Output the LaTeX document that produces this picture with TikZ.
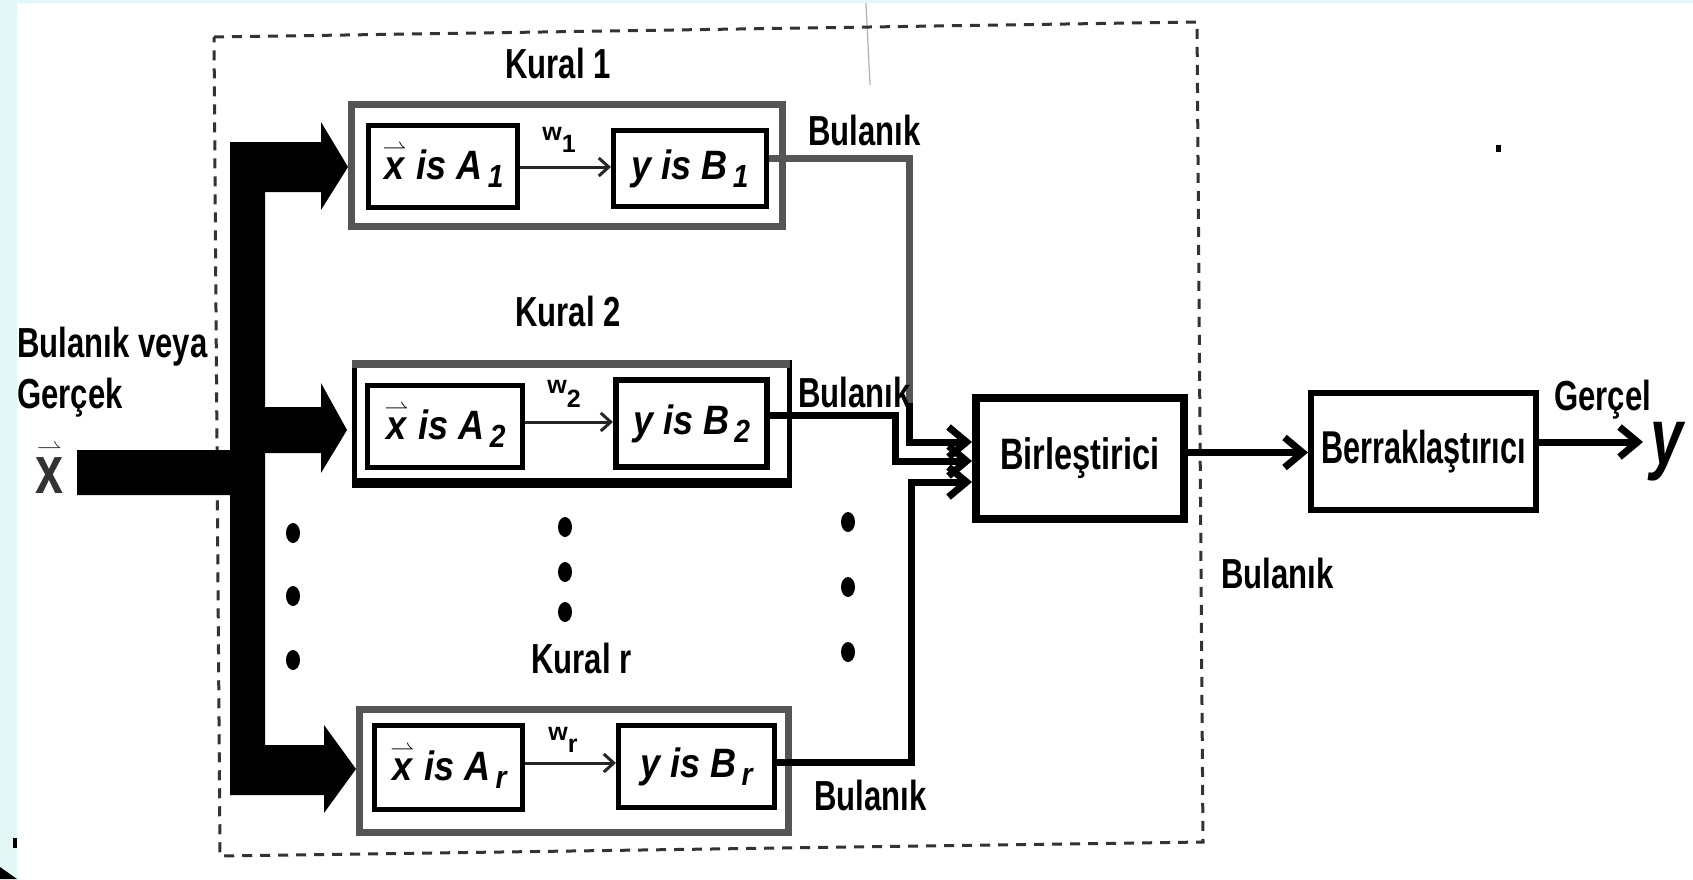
\documentclass[tikz,border=0pt]{standalone}
\usepackage{fontspec}
\setmainfont[FakeStretch=0.74]{Liberation Sans}
\newfontfamily\boxfont[FakeStretch=0.88]{Liberation Sans}
\newfontfamily\wfont{Liberation Sans}
\usepackage{graphicx}
\usetikzlibrary{arrows.meta,calc}
\definecolor{bgcyan}{HTML}{E4F7F7}
\definecolor{rulegray}{HTML}{555555}
\newcommand\vx[1]{\leavevmode\vbox{\offinterlineskip\halign{\hfil##\hfil\cr\resizebox{#1}{!}{$\rightharpoonup$}\cr\noalign{\kern1.5pt}x\cr}}}
\newcommand\sub[1]{\hspace{2.5pt}\raisebox{-4pt}{\fontsize{16}{16}\selectfont #1}}
\tikzset{
  lbl/.style={anchor=base west, inner sep=0pt, font=\fontsize{21}{21}\selectfont\bfseries},
  rulebox/.style={draw=rulegray, line width=3.5pt, inner sep=0pt},
  condbox/.style={draw=black, line width=2.5pt, inner sep=0pt, font=\boxfont\fontsize{20.5}{20.5}\selectfont\bfseries\itshape},
  bigbox/.style={draw=black, inner sep=0pt},
  wire/.style={line width=3.5pt, line join=miter},
  barbtip/.style={-{Straight Barb[length=9pt,width=15pt]}},
  warrow/.style={line width=1.5pt, black!85, -{Straight Barb[length=5pt,width=9pt]}},
  wlbl/.style={anchor=base west, inner sep=0pt, font=\wfont\fontsize{12.5}{12.5}\selectfont\bfseries},
  dashbox/.style={line width=1.5pt, black!80, dash pattern=on 5pt off 4pt}
}
\begin{document}
\begin{tikzpicture}[x=0.5pt,y=-0.5pt]
\useasboundingbox (0,0) rectangle (1693,879);
% background
\fill[bgcyan] (0,0) rectangle (1693,879);
\fill[white] (17,3) rectangle (1693,879);
\fill (0,867) -- (17,879) -- (0,879) -- cycle;
\fill (13,838) rectangle (17,848);
\fill (1496,145) rectangle (1501,152);
\draw[black!30, line width=0.6pt] (866,3) -- (870,85);

% dashed system boundary
\draw[dashbox] (214,37) -- (1197,22) -- (1203,842) -- (220,856) -- cycle;

% rule boxes
\node[rulebox, minimum width=215.5pt, minimum height=61pt] (R1) at (567,165.5) {};
\node[bigbox, line width=2.5pt, minimum width=217.5pt, minimum height=61.5pt] (R2) at (572,424) {};
\fill[rulegray] (352,360) rectangle (790,368);
\fill[black] (352,478) rectangle (792,488);
\node[rulebox, minimum width=214.5pt, minimum height=61.5pt] (Rr) at (574,771) {};

% condition boxes
\node[condbox, minimum width=74.5pt, minimum height=41pt] (A1) at (443,166.5) {\vx{12pt} is A\sub{1}};
\node[condbox, minimum width=76.5pt, minimum height=38pt] (B1) at (690,168.5) {y is B\sub{1}};
\node[condbox, minimum width=77.5pt, minimum height=41pt] (A2) at (445,426.5) {\vx{12pt} is A\sub{2}};
\node[condbox, line width=3pt, minimum width=75.5pt, minimum height=43.5pt] (B2) at (691.5,423.5) {y is B\sub{2}};
\node[condbox, minimum width=74pt, minimum height=42pt] (Ar) at (448.5,767.5) {\vx{12pt} is A\sub{r}};
\node[condbox, minimum width=78pt, minimum height=41pt] (Br) at (696.5,766.5) {y is B\sub{r}};

% weights
\coordinate (a1o) at ($(A1.east)+(0,0.5)$);
\coordinate (a2o) at ($(A2.east)+(0,-4.5)$);
\coordinate (aro) at ($(Ar.east)+(0,-4.5)$);
\draw[warrow] (a1o) -- (a1o -| B1.west);
\draw[warrow] (a2o) -- (a2o -| B2.west);
\draw[warrow] (aro) -- (aro -| Br.west);
\node[wlbl] (w1) at (542,140) {w\raisebox{-6pt}{1}};
\node[wlbl] (w2) at (547,393) {w\raisebox{-7pt}{2}};
\node[wlbl] (wr) at (548,740) {w\raisebox{-6pt}{r}};

% big input arrow
\fill (77,450) -- (230,450) -- (230,142) -- (321,142) -- (321,122) -- (348,167) -- (321,210) -- (321,192) -- (265,192)
  -- (265,407) -- (321,407) -- (321,383) -- (347,430) -- (321,473) -- (321,453) -- (265,453)
  -- (265,745) -- (324,745) -- (324,725) -- (356,769) -- (324,813) -- (324,795) -- (230,795)
  -- (230,495) -- (77,495) -- cycle;

% combiner and defuzzifier
\node[bigbox, line width=4pt, minimum width=104pt, minimum height=60.5pt, font=\fontsize{22}{22}\selectfont\bfseries] (Birl) at (1080,458.5) {Birleştirici};
\node[bigbox, line width=3pt, minimum width=112.5pt, minimum height=58.5pt, font=\fontsize{23}{23}\selectfont\bfseries] (Berr) at (1423.5,451.5) {\scalebox{0.9}[1]{Berraklaştırıcı}};

% wires to combiner
\draw[rulegray, wire] ($(B1.east)+(0,-10.5)$) -- (909,158) -- (909,405);
\draw[wire, barbtip] (909,403) |- ($(Birl.west)+(0,-16.5)$);
\draw[wire, barbtip] ($(B2.east)+(0,-8.5)$) -- (895,415) |- ($(Birl.west)+(0,2.5)$);
\draw[wire, barbtip] ($(Br.east)+(0,-4.5)$) -- (911,762) |- ($(Birl.west)+(0,23.5)$);

% output chain
\draw[wire, barbtip] ($(Birl.east)+(0,-6)$) -- ($(Berr.west)+(0,1)$);
\coordinate (yend) at (1643,442);
\draw[wire, barbtip] ($(Berr.east)+(0,-9.5)$) -- (yend);

% dots
\foreach \px/\py in {293/533,293/596,293/660,565/527,565/572,565/612,848/522,848/587,848/652}
  \fill (\px,\py) ellipse [x radius=3.5pt, y radius=5pt];

% labels
\node[lbl] (k1) at (505,78) {Kural 1};
\node[lbl] (k2) at (515,326) {Kural 2};
\node[lbl] (kr) at (531,673) {Kural r};
\node[lbl] (bt) at (808,145) {Bulanık};
\node[lbl] (bm) at (798,407) {Bulanık};
\node[lbl] (bb) at (814,810) {Bulanık};
\node[lbl] (bo) at (1221,588) {Bulanık};
\node[lbl] (in1) at (17,357) {Bulanık veya};
\node[lbl] (in2) at (17,408) {Gerçek};
\node[lbl] (ger) at (1554,410) {Gerçel};
\node[anchor=base west, inner sep=0pt, font=\fontsize{34}{34}\selectfont\bfseries, text=black!80] (xin) at (35,493) {\vx{12.5pt}};
\node[anchor=base west, inner sep=0pt, font=\fontsize{40}{40}\selectfont\bfseries\itshape] (yout) at (1650,464) {y};
\end{tikzpicture}
\end{document}
